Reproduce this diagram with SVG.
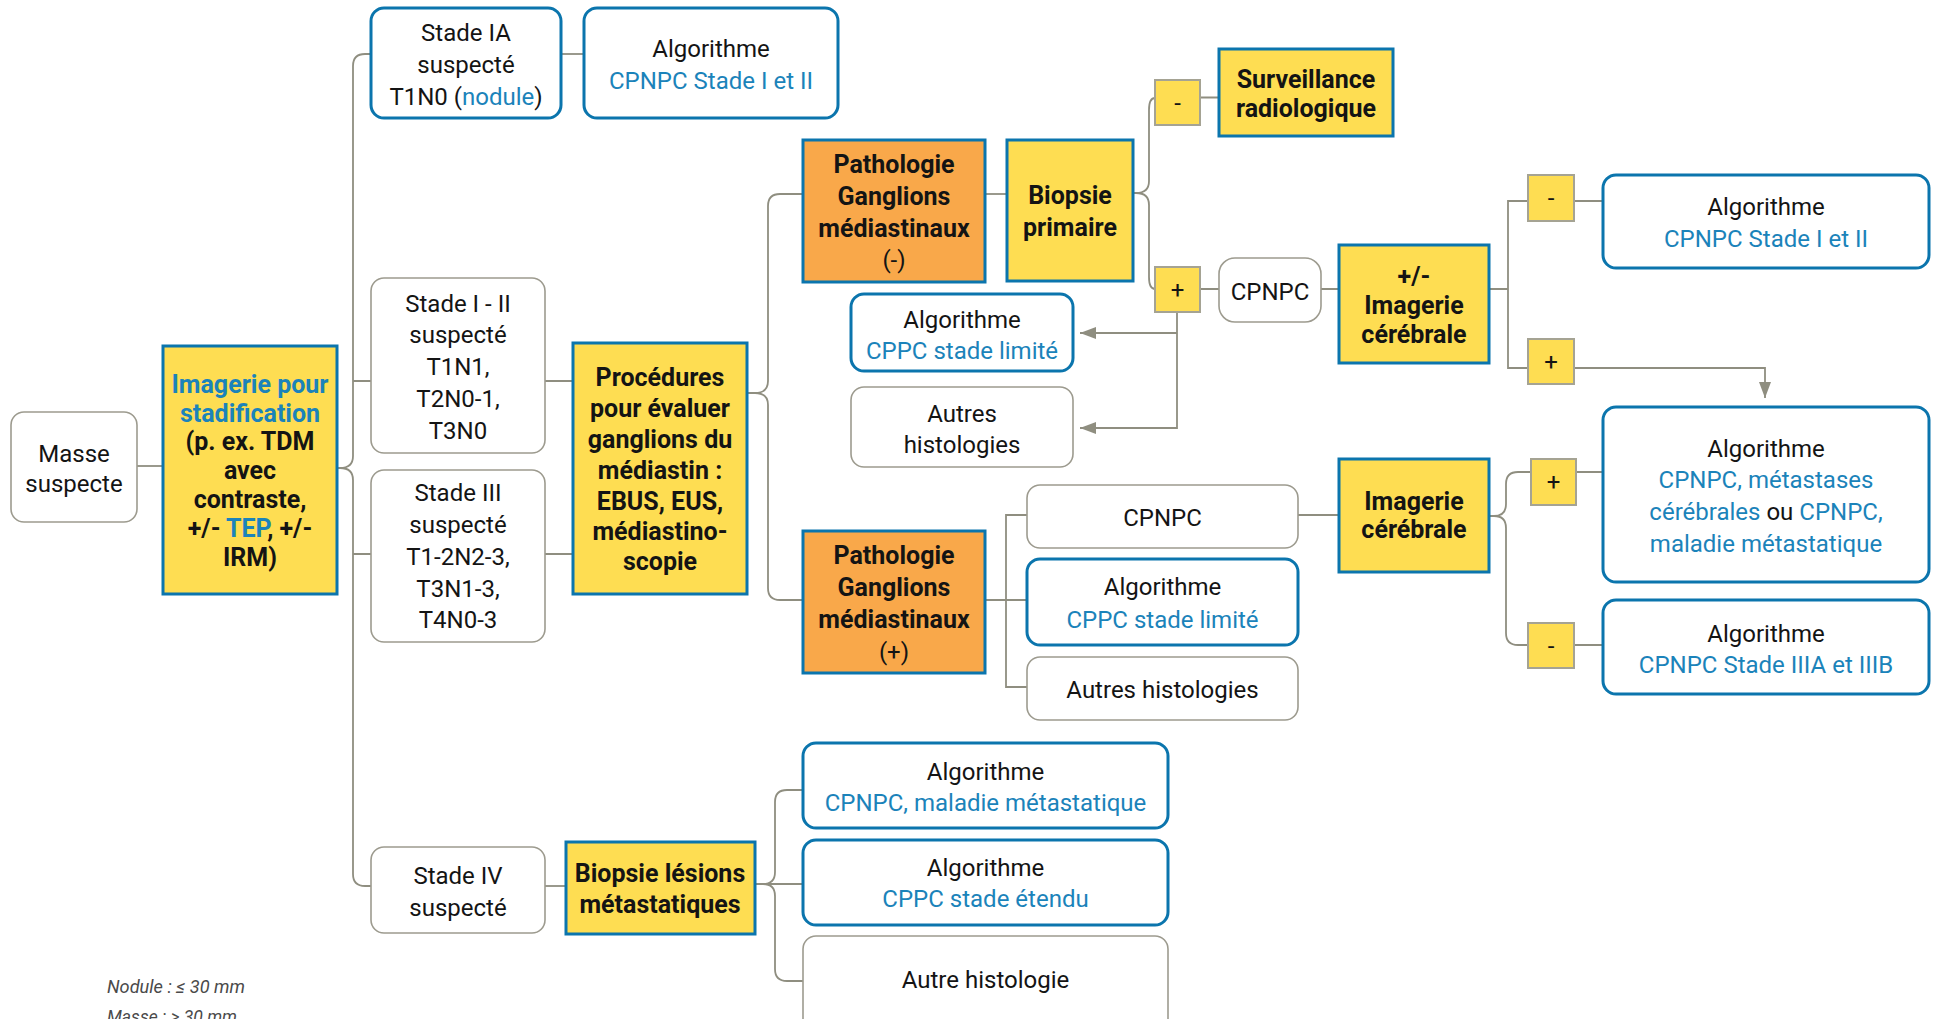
<svg xmlns="http://www.w3.org/2000/svg" width="1939" height="1019" viewBox="0 0 1939 1019">
<style>
  text { font-family: Roboto, "Liberation Sans", sans-serif; font-size: 24px; fill: #141414; text-anchor: middle; }
  .b { font-weight: 700; font-size: 25px; }
  .blue { fill: #1B83BA; }
  .gbox { fill: #ffffff; stroke: #9D9B8F; stroke-width: 1.6; }
  .bbox { fill: #ffffff; stroke: #0B75AD; stroke-width: 3; }
  .ybox { fill: #FEDD52; stroke: #0B75AD; stroke-width: 3; }
  .obox { fill: #F9A84A; stroke: #0B75AD; stroke-width: 3; }
  .sign { fill: #FEDD52; stroke: #A5A393; stroke-width: 2; }
  .ln { fill: none; stroke: #8F8E80; stroke-width: 1.8; }
  .note { font-style: italic; font-size: 19px; fill: #4a4a4a; text-anchor: start; }
</style>
<defs>
  <marker id="arr" markerWidth="16" markerHeight="12" refX="16" refY="6" orient="auto" markerUnits="userSpaceOnUse">
    <path d="M0,0 L16,6 L0,12 Z" fill="#8F8E80"/>
  </marker>
</defs>

<!-- connectors -->
<g id="connectors">
  <path class="ln" d="M137,466 H163"/>
  <!-- stage brace -->
  <path class="ln" d="M337,468 H340 M371,54 H365 Q353,54 353,66 V456 Q353,468 340,468 Q353,468 353,480 V874 Q353,886 365,886 H371"/>
  <path class="ln" d="M353,381 H371 M353,554 H371"/>
  <path class="ln" d="M561,54 H584"/>
  <path class="ln" d="M545,381 H573 M545,554 H573"/>
  <path class="ln" d="M545,886 H566"/>
  <!-- mediastinal procedures brace -->
  <path class="ln" d="M747,393 H755 M803,194 H780 Q768,194 768,206 V381 Q768,393 755,393 Q768,393 768,405 V588 Q768,600 780,600 H803"/>
  <path class="ln" d="M985,194 H1007"/>
  <!-- primary biopsy brace -->
  <path class="ln" d="M1133,193 H1136 M1155,98 Q1149,98 1149,110 V181 Q1149,193 1136,193 Q1149,193 1149,205 V277 Q1149,289 1155,289"/>
  <path class="ln" d="M1200,97.5 H1219 M1200,289 H1219 M1321,289 H1339"/>
  <path class="ln" d="M1177,312 V428 H1080" marker-end="url(#arr)"/>
  <path class="ln" d="M1177,333 H1080" marker-end="url(#arr)"/>
  <!-- +/- brain imaging branch -->
  <path class="ln" d="M1489,289 H1508 M1528,201 H1508 V368 H1528 M1574,201 H1603"/>
  <path class="ln" d="M1574,368 H1765 V398" marker-end="url(#arr)"/>
  <!-- N+ branch -->
  <path class="ln" d="M985,600 H1027 M1027,515 H1006 V687 H1027"/>
  <path class="ln" d="M1298,515 H1339"/>
  <!-- brain imaging brace -->
  <path class="ln" d="M1489,516 H1494 M1531,472 H1518 Q1506,472 1506,484 V504 Q1506,516 1494,516 Q1506,516 1506,528 V633 Q1506,645 1518,645 H1528"/>
  <path class="ln" d="M1576,472 H1603 M1574,645 H1603"/>
  <!-- metastatic biopsy brace -->
  <path class="ln" d="M755,884 H803 M803,790 H787 Q775,790 775,802 V872 Q775,884 763,884 Q775,884 775,896 V969 Q775,981 787,981 H803"/>
</g>

<g id="masse">
  <rect class="gbox" x="11" y="412" width="126" height="110" rx="13"/>
  <text x="74" y="462">Masse</text>
  <text x="74" y="492">suspecte</text>
</g>

<g id="imagerie">
  <rect class="ybox" x="163" y="346" width="174" height="248"/>
  <text class="b blue" x="250" y="393">Imagerie pour</text>
  <text class="b blue" x="250" y="422">stadification</text>
  <text class="b" x="250" y="450">(p. ex. TDM</text>
  <text class="b" x="250" y="479">avec</text>
  <text class="b" x="250" y="508">contraste,</text>
  <text class="b" x="250" y="537">+/- <tspan class="blue">TEP</tspan>, +/-</text>
  <text class="b" x="250" y="566">IRM)</text>
</g>

<g id="stade-ia">
  <rect class="bbox" x="371" y="8" width="190" height="110" rx="13"/>
  <text x="466" y="41">Stade IA</text>
  <text x="466" y="73">suspecté</text>
  <text x="466" y="105">T1N0 (<tspan class="blue">nodule</tspan>)</text>
</g>

<g id="stade-i-ii">
  <rect class="gbox" x="371" y="278" width="174" height="175" rx="13"/>
  <text x="458" y="312">Stade I - II</text>
  <text x="458" y="343">suspecté</text>
  <text x="458" y="375">T1N1,</text>
  <text x="458" y="407">T2N0-1,</text>
  <text x="458" y="439">T3N0</text>
</g>

<g id="stade-iii">
  <rect class="gbox" x="371" y="470" width="174" height="172" rx="13"/>
  <text x="458" y="501">Stade III</text>
  <text x="458" y="533">suspecté</text>
  <text x="458" y="565">T1-2N2-3,</text>
  <text x="458" y="597">T3N1-3,</text>
  <text x="458" y="628">T4N0-3</text>
</g>

<g id="stade-iv">
  <rect class="gbox" x="371" y="847" width="174" height="86" rx="13"/>
  <text x="458" y="884">Stade IV</text>
  <text x="458" y="916">suspecté</text>
</g>

<g id="algo-stade-i-ii-a">
  <rect class="bbox" x="584" y="8" width="254" height="110" rx="13"/>
  <text x="711" y="57">Algorithme</text>
  <text class="blue" x="711" y="89">CPNPC Stade I et II</text>
</g>

<g id="procedures">
  <rect class="ybox" x="573" y="343" width="174" height="251"/>
  <text class="b" x="660" y="386">Procédures</text>
  <text class="b" x="660" y="417">pour évaluer</text>
  <text class="b" x="660" y="448">ganglions du</text>
  <text class="b" x="660" y="479">médiastin :</text>
  <text class="b" x="660" y="510">EBUS, EUS,</text>
  <text class="b" x="660" y="540">médiastino-</text>
  <text class="b" x="660" y="570">scopie</text>
</g>

<g id="biopsie-lesions">
  <rect class="ybox" x="566" y="842" width="189" height="92"/>
  <text class="b" x="660" y="882">Biopsie lésions</text>
  <text class="b" x="660" y="913">métastatiques</text>
</g>

<g id="patho-neg">
  <rect class="obox" x="803" y="140" width="182" height="142"/>
  <text class="b" x="894" y="173">Pathologie</text>
  <text class="b" x="894" y="205">Ganglions</text>
  <text class="b" x="894" y="237">médiastinaux</text>
  <text x="894" y="268">(-)</text>
</g>

<g id="biopsie-primaire">
  <rect class="ybox" x="1007" y="140" width="126" height="141"/>
  <text class="b" x="1070" y="204">Biopsie</text>
  <text class="b" x="1070" y="236">primaire</text>
</g>

<g id="algo-cppc-limite-a">
  <rect class="bbox" x="851" y="294" width="222" height="77" rx="13"/>
  <text x="962" y="328">Algorithme</text>
  <text class="blue" x="962" y="359">CPPC stade limité</text>
</g>

<g id="autres-histologies-a">
  <rect class="gbox" x="851" y="387" width="222" height="80" rx="13"/>
  <text x="962" y="422">Autres</text>
  <text x="962" y="453">histologies</text>
</g>

<g id="sign-neg-a">
  <rect class="sign" x="1155" y="80" width="45" height="45"/>
  <text x="1177.5" y="111">-</text>
</g>

<g id="sign-pos-a">
  <rect class="sign" x="1155" y="267" width="45" height="45"/>
  <text x="1177.5" y="298">+</text>
</g>

<g id="surveillance">
  <rect class="ybox" x="1219" y="49" width="174" height="87"/>
  <text class="b" x="1306" y="88">Surveillance</text>
  <text class="b" x="1306" y="117">radiologique</text>
</g>

<g id="cpnpc-a">
  <rect class="gbox" x="1219" y="258" width="102" height="64" rx="16"/>
  <text x="1270" y="300">CPNPC</text>
</g>

<g id="imagerie-cerebrale-opt">
  <rect class="ybox" x="1339" y="245" width="150" height="118"/>
  <text class="b" x="1414" y="285">+/-</text>
  <text class="b" x="1414" y="314">Imagerie</text>
  <text class="b" x="1414" y="343">cérébrale</text>
</g>

<g id="sign-neg-b">
  <rect class="sign" x="1528" y="175" width="46" height="46"/>
  <text x="1551" y="206">-</text>
</g>

<g id="sign-pos-b">
  <rect class="sign" x="1528" y="339" width="46" height="45"/>
  <text x="1551" y="370">+</text>
</g>

<g id="algo-stade-i-ii-b">
  <rect class="bbox" x="1603" y="175" width="326" height="93" rx="13"/>
  <text x="1766" y="215">Algorithme</text>
  <text class="blue" x="1766" y="247">CPNPC Stade I et II</text>
</g>

<g id="algo-metastases">
  <rect class="bbox" x="1603" y="407" width="326" height="175" rx="13"/>
  <text x="1766" y="457">Algorithme</text>
  <text class="blue" x="1766" y="488">CPNPC, métastases</text>
  <text x="1766" y="520"><tspan class="blue">cérébrales</tspan> ou <tspan class="blue">CPNPC,</tspan></text>
  <text class="blue" x="1766" y="552">maladie métastatique</text>
</g>

<g id="imagerie-cerebrale">
  <rect class="ybox" x="1339" y="459" width="150" height="113"/>
  <text class="b" x="1414" y="510">Imagerie</text>
  <text class="b" x="1414" y="538">cérébrale</text>
</g>

<g id="sign-pos-c">
  <rect class="sign" x="1531" y="459" width="45" height="46"/>
  <text x="1553.5" y="490">+</text>
</g>

<g id="sign-neg-c">
  <rect class="sign" x="1528" y="623" width="46" height="45"/>
  <text x="1551" y="654">-</text>
</g>

<g id="algo-stade-iii">
  <rect class="bbox" x="1603" y="600" width="326" height="94" rx="13"/>
  <text x="1766" y="642">Algorithme</text>
  <text class="blue" x="1766" y="673">CPNPC Stade IIIA et IIIB</text>
</g>

<g id="patho-pos">
  <rect class="obox" x="803" y="531" width="182" height="142"/>
  <text class="b" x="894" y="564">Pathologie</text>
  <text class="b" x="894" y="596">Ganglions</text>
  <text class="b" x="894" y="628">médiastinaux</text>
  <text x="894" y="660">(+)</text>
</g>

<g id="cpnpc-b">
  <rect class="gbox" x="1027" y="485" width="271" height="63" rx="13"/>
  <text x="1162.5" y="526">CPNPC</text>
</g>

<g id="algo-cppc-limite-b">
  <rect class="bbox" x="1027" y="559" width="271" height="86" rx="13"/>
  <text x="1162.5" y="595">Algorithme</text>
  <text class="blue" x="1162.5" y="628">CPPC stade limité</text>
</g>

<g id="autres-histologies-b">
  <rect class="gbox" x="1027" y="657" width="271" height="63" rx="13"/>
  <text x="1162.5" y="698">Autres histologies</text>
</g>

<g id="algo-maladie-metastatique">
  <rect class="bbox" x="803" y="743" width="365" height="85" rx="13"/>
  <text x="985.5" y="780">Algorithme</text>
  <text class="blue" x="985.5" y="811">CPNPC, maladie métastatique</text>
</g>

<g id="algo-cppc-etendu">
  <rect class="bbox" x="803" y="840" width="365" height="85" rx="13"/>
  <text x="985.5" y="876">Algorithme</text>
  <text class="blue" x="985.5" y="907">CPPC stade étendu</text>
</g>

<g id="autre-histologie">
  <rect class="gbox" x="803" y="936" width="365" height="100" rx="13"/>
  <text x="985.5" y="988">Autre histologie</text>
</g>

<g id="notes">
  <text class="note" x="107" y="993" textLength="138" lengthAdjust="spacingAndGlyphs">Nodule : ≤ 30 mm</text>
  <text class="note" x="107" y="1023" textLength="130" lengthAdjust="spacingAndGlyphs">Masse : &gt; 30 mm</text>
</g>
</svg>
